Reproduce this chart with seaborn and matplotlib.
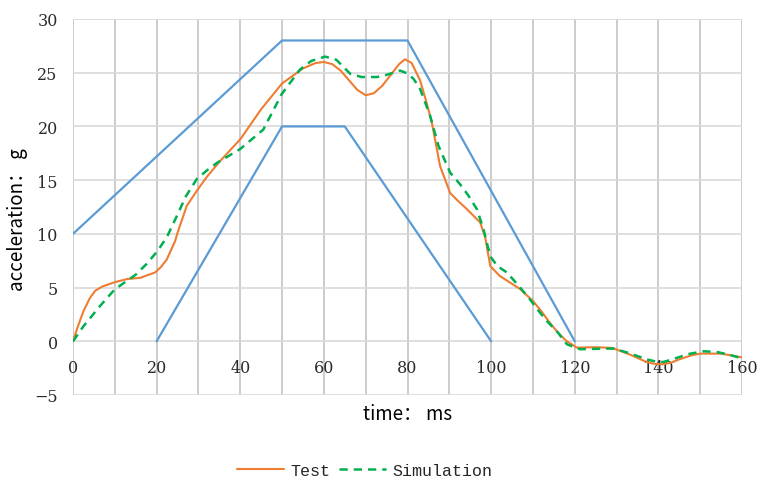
import numpy as np
import pandas as pd
import matplotlib
matplotlib.use('Agg')
import matplotlib.pyplot as plt
import seaborn as sns

# corridor limits (ms, g)
upper_t = [0, 50, 80, 120]
upper_g = [10, 28, 28, 0]
lower_t = [20, 50, 65, 100]
lower_g = [0, 20, 20, 0]

# test curve
test_t = [0, 1, 2.5, 4, 5.3, 7, 10, 13, 16, 19.6, 21, 22.4, 24.4, 25, 27.2, 29.6, 32, 35, 40,
          45, 50, 55, 58, 60, 62, 64, 66, 68, 70, 72, 74, 76, 78, 79.4, 81, 83, 84.5, 85.8,
          87.8, 90.2, 92, 94.2, 97.4, 98.6, 99.8, 102, 104, 107, 110, 112, 114, 116, 118,
          120.5, 125, 129, 133, 137, 139, 141, 143, 145, 148, 150, 155, 160]
test_g = [0, 1.2, 2.8, 4.0, 4.7, 5.1, 5.5, 5.8, 5.9, 6.4, 6.9, 7.6, 9.3, 10.1, 12.6, 14.0,
          15.3, 16.7, 18.8, 21.6, 24.0, 25.4, 25.9, 26.0, 25.8, 25.2, 24.3, 23.4, 22.9, 23.1,
          23.8, 24.8, 25.8, 26.25, 25.9, 24.3, 22.3, 20.4, 16.3, 13.8, 13.1, 12.3, 11.05, 9.65,
          7.0, 6.1, 5.6, 4.84, 3.75, 2.8, 1.74, 0.8, 0.03, -0.59, -0.55, -0.62, -1.2, -1.9,
          -2.1, -2.14, -2.0, -1.68, -1.3, -1.15, -1.15, -1.5]

# simulation curve
sim_t = [0, 2.5, 6.5, 10, 12.8, 15, 17.6, 20, 22.4, 25, 27, 29.6, 32, 34.4, 37, 40, 45.5,
         49.9, 54.3, 57, 60.3, 63, 66.3, 69, 72.7, 75, 78.2, 80.2, 81.5, 83, 85.4, 87.4,
         90.2, 92.6, 94.5, 96.6, 98.2, 99.8, 101.5, 103.8, 106.5, 109.3, 111, 113.3, 116,
         118.1, 121.3, 125, 129.3, 133, 137.2, 139, 141.2, 144, 147, 150.8, 154, 157, 160]
sim_g = [0, 1.4, 3.3, 4.84, 5.6, 6.2, 7.2, 8.3, 9.65, 11.8, 13.5, 15.1, 15.9, 16.6, 17.2,
         17.9, 19.7, 23.0, 25.3, 26.1, 26.5, 26.2, 24.9, 24.6, 24.6, 24.8, 25.2, 24.9, 24.4,
         23.5, 21.0, 18.2, 15.7, 14.6, 13.6, 12.3, 10.4, 7.9, 7.0, 6.4, 5.2, 3.9, 3.0, 1.9,
         0.8, -0.28, -0.74, -0.7, -0.68, -1.1, -1.68, -1.85, -1.93, -1.6, -1.2, -0.93, -1.0,
         -1.25, -1.6]

x_ticks = [0, 20, 40, 60, 80, 100, 120, 140, 160]
y_ticks = [-5, 0, 5, 10, 15, 20, 25, 30]

sns.set_style('white')
plt.rcParams['axes.unicode_minus'] = True

fig = plt.figure(figsize=(7.59, 4.81), dpi=100)
ax = fig.add_axes([73 / 759, 1 - 396 / 481, (742 - 73) / 759, (396 - 20) / 481])

blue = '#5B9BD5'
sns.lineplot(x=upper_t, y=upper_g, ax=ax, color=blue, lw=1.6, sort=False)
sns.lineplot(x=lower_t, y=lower_g, ax=ax, color=blue, lw=1.6, sort=False)
sns.lineplot(x=test_t, y=test_g, ax=ax, color='#ED7D31', lw=1.5, sort=False, label='Test')
sns.lineplot(x=sim_t, y=sim_g, ax=ax, color='#00B050', lw=1.8, sort=False,
             linestyle=(0, (3.3, 2.4)), label='Simulation')

ax.set_xlim(0, 160)
ax.set_ylim(-5, 30)
ax.set_xticks(x_ticks)
ax.set_xticks(np.arange(0, 161, 10), minor=True)
ax.set_yticks(y_ticks)
ax.grid(True, which='both', axis='x', color='#C4C4C4', lw=1.2)
ax.grid(True, which='major', axis='y', color='#D9D9D9', lw=1.2)
ax.set_axisbelow(True)
for s in ax.spines.values():
    s.set_visible(False)
ax.spines['bottom'].set_position(('data', 0))

serif = ['DejaVu Serif']
ax.tick_params(axis='x', which='both', length=0, pad=13)
ax.tick_params(axis='y', length=0, pad=11)
for lab in ax.get_xticklabels() + ax.get_yticklabels():
    lab.set_fontfamily(serif)
    lab.set_fontsize(11.5)
    lab.set_color('#2B2B2B')

label_font = ['Noto Sans CJK SC', 'DejaVu Sans']
ax.set_xlabel('time： ms', family=label_font, fontsize=13.5, color='black')
ax.set_ylabel('acceleration： g', family=label_font, fontsize=13.5, color='black')
ax.xaxis.set_label_coords(0.5, -0.022)
ax.yaxis.set_label_coords(-0.068, 0.47)

leg = ax.legend(loc='center', bbox_to_anchor=(0.436, -0.2), ncol=2, frameon=False,
                prop={'family': 'Liberation Mono', 'size': 12}, handlelength=2.8,
                columnspacing=0.5, handletextpad=0.4)

fig.savefig('out.png', dpi=100)
